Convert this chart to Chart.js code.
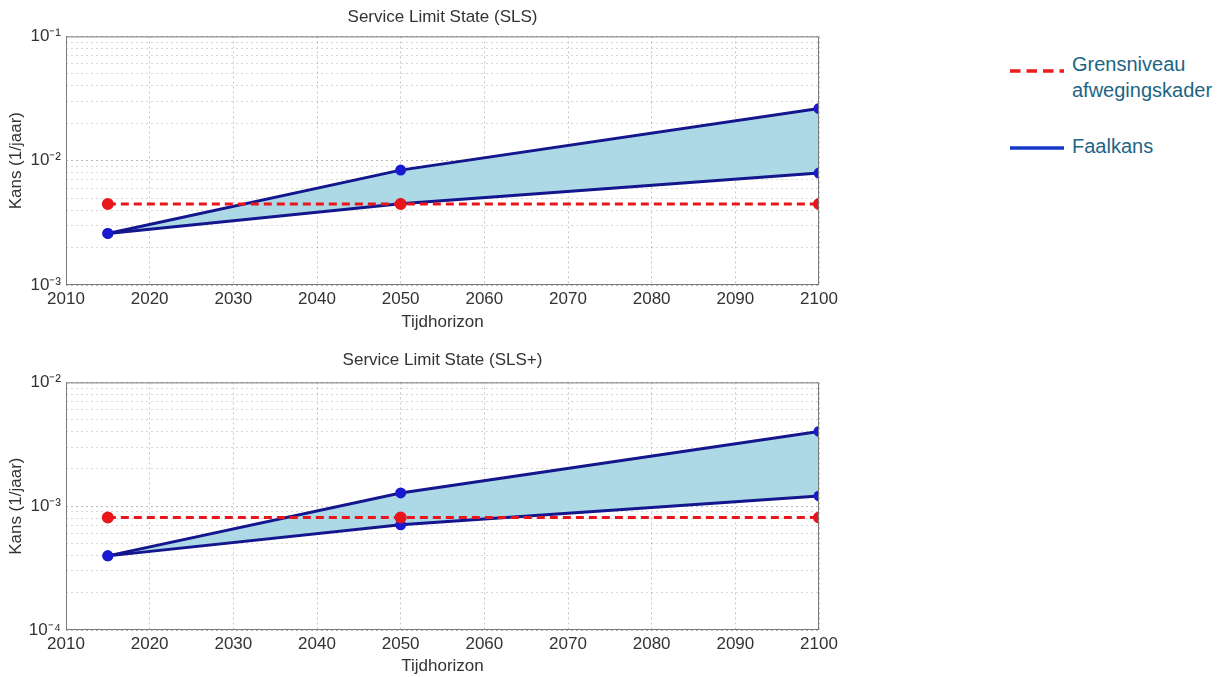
<!DOCTYPE html>
<html>
<head>
<meta charset="utf-8">
<script src="https://cdn.jsdelivr.net/npm/chart.js@4.4.1/dist/chart.umd.min.js"></script>
<style>
body { margin: 0; background: #fff; width: 1228px; height: 677px; position: relative; overflow: hidden; font-family: "Liberation Sans", Arial, sans-serif; }
.box { position: absolute; left: 0; width: 843px; }
.leg { position: absolute; left: 1072px; font-size: 20px; line-height: 26px; color: #1d6584; }
svg { position: absolute; }
</style>
</head>
<body>
<div class="box" style="top:0;height:340px"><canvas id="sls"></canvas></div>
<div class="box" style="top:340px;height:337px"><canvas id="slsplus"></canvas></div>

<svg style="left:1008px;top:66px" width="60" height="10"><line x1="2" y1="5" x2="56" y2="5" stroke="#ee1c1c" stroke-width="3.5" stroke-dasharray="10.5 6"/></svg>
<div class="leg" style="top:51px">Grensniveau<br>afwegingskader</div>
<svg style="left:1008px;top:143px" width="60" height="10"><line x1="2" y1="5" x2="56" y2="5" stroke="#1438c8" stroke-width="3.5"/></svg>
<div class="leg" style="top:133px">Faalkans</div>

<script>
const years = [2015, 2050, 2100];
const xTickValues = [2010, 2020, 2030, 2040, 2050, 2060, 2070, 2080, 2090, 2100];

// SLS (top)
const slsGrens = [0.00448, 0.00448, 0.00448];
const slsLow = [0.0026, 0.0045, 0.00796];
const slsHigh = [0.0026, 0.0084, 0.0263];

// SLS+ (bottom)
const plusGrens = [0.00081, 0.00081, 0.00081];
const plusLow = [0.000397, 0.000708, 0.00121];
const plusHigh = [0.000397, 0.00128, 0.00402];

const SUP = {'-': '\u207B', '0': '\u2070', '1': '\u00B9', '2': '\u00B2', '3': '\u00B3', '4': '\u2074'};
const sup = n => String(n).split('').map(c => SUP[c]).join('');

const textColor = '#333';
const font = {family: '"Liberation Sans", Arial, sans-serif', size: 17};

const frame = {
    id: 'frame',
    afterDatasetsDraw(chart) {
        const a = chart.chartArea, c = chart.ctx;
        c.save();
        c.strokeStyle = '#7a7a7a';
        c.lineWidth = 1;
        c.strokeRect(a.left + 0.5, a.top + 0.5, a.right - a.left - 1, a.bottom - a.top - 1);
        c.restore();
    }
};

const logTicks = (scale) => {
    const lo = Math.round(Math.log10(scale.min)), hi = Math.round(Math.log10(scale.max));
    const ticks = [];
    for (let e = lo; e < hi; e++) {
        for (let m = 1; m < 10; m++) ticks.push({value: m * Math.pow(10, e), major: m === 1});
    }
    ticks.push({value: Math.pow(10, hi), major: true});
    scale.ticks = ticks;
};

const makeChart = (where, title, grens, low, high, yMin, yMax, opt) => {
    const ctx = document.getElementById(where).getContext('2d');
    new Chart(ctx, {
        type: 'line',
        data: {
            labels: years,
            datasets: [
                {
                    data: grens.map((y, i) => ({x: years[i], y: y})),
                    borderColor: '#e8161b',
                    backgroundColor: '#e8161b',
                    borderDash: [8, 5],
                    borderWidth: 3,
                    pointRadius: 4.5,
                    fill: false
                },
                {
                    data: high.map((y, i) => ({x: years[i], y: y})),
                    borderColor: '#13168c',
                    backgroundColor: '#add8e6',
                    pointBackgroundColor: '#1a1ad0',
                    pointBorderColor: '#1a1ad0',
                    borderWidth: 3,
                    pointRadius: 4,
                    fill: '+1'
                },
                {
                    data: low.map((y, i) => ({x: years[i], y: y})),
                    borderColor: '#13168c',
                    pointBackgroundColor: '#1a1ad0',
                    pointBorderColor: '#1a1ad0',
                    borderWidth: 3,
                    pointRadius: 4,
                    fill: false
                }
            ]
        },
        options: {
            animation: false,
            responsive: true,
            maintainAspectRatio: false,
            layout: {padding: {left: 0, right: 24, top: 0, bottom: 0}},
            plugins: {
                legend: {display: false},
                tooltip: {enabled: false},
                filler: {drawTime: 'beforeDatasetsDraw'},
                title: {
                    display: true,
                    text: title,
                    fullSize: false,
                    color: textColor,
                    font: Object.assign({}, font, {weight: 'normal'}),
                    padding: opt.titlePad
                }
            },
            scales: {
                x: {
                    type: 'linear',
                    min: 2010,
                    max: 2100,
                    afterBuildTicks: (s) => { s.ticks = xTickValues.map(v => ({value: v})); },
                    afterFit: (s) => { s.height = opt.xHeight; },
                    ticks: {color: textColor, font: font, padding: 4, maxRotation: 0, autoSkip: false, callback: (v) => String(v)},
                    grid: {color: 'rgba(0,0,0,0.22)', drawTicks: false},
                    border: {display: false, dash: [2, 3]},
                    title: {display: true, text: 'Tijdhorizon', color: textColor, font: font, padding: opt.xTitlePad}
                },
                y: {
                    type: 'logarithmic',
                    min: yMin,
                    max: yMax,
                    afterBuildTicks: logTicks,
                    afterFit: (s) => { s.width = 66; },
                    ticks: {
                        color: textColor,
                        font: font,
                        padding: 5,
                        autoSkip: false,
                        callback: (v) => {
                            const e = Math.log10(v);
                            return Math.abs(e - Math.round(e)) < 1e-6 ? '10' + sup(Math.round(e)) : '';
                        }
                    },
                    grid: {
                        color: (c) => (c.tick && c.tick.major) ? 'rgba(0,0,0,0.28)' : 'rgba(0,0,0,0.16)',
                        drawTicks: false
                    },
                    border: {display: false, dash: [2, 3]},
                    title: {display: true, text: 'Kans (1/jaar)', color: textColor, font: font, padding: {top: 6, bottom: 0}}
                }
            }
        },
        plugins: [frame]
    });
};

window.onload = function () {
    makeChart('sls', 'Service Limit State (SLS)', slsGrens, slsLow, slsHigh, 1e-3, 1e-1,
        {titlePad: {top: 7, bottom: 9}, xHeight: 55, xTitlePad: {top: 0, bottom: 7}});
    makeChart('slsplus', 'Service Limit State (SLS+)', plusGrens, plusLow, plusHigh, 1e-4, 1e-2,
        {titlePad: {top: 10, bottom: 12}, xHeight: 47, xTitlePad: {top: 0, bottom: 0}});
};
</script>
</body>
</html>
